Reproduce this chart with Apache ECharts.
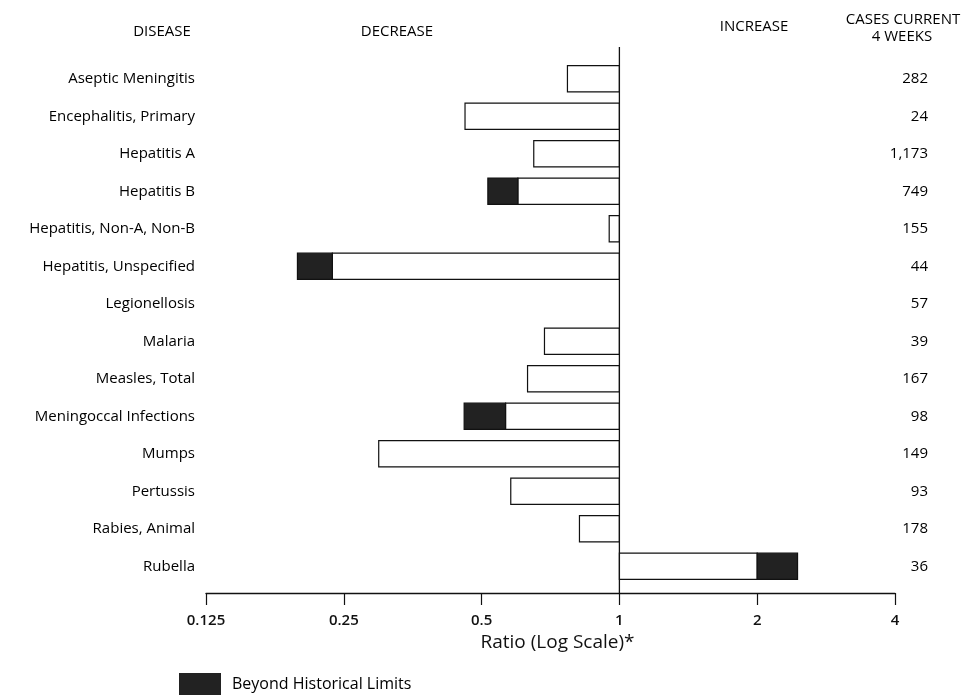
<!DOCTYPE html>
<html>
<head>
<meta charset="utf-8">
<script src="https://cdn.jsdelivr.net/npm/echarts@6/dist/echarts.min.js"></script>
<style>
  html, body { margin: 0; padding: 0; background: #fff; }
  #chart { width: 971px; height: 696px; }
</style>
</head>
<body>
<div id="chart"></div>
<script>
const diseases = [
  'Aseptic Meningitis', 'Encephalitis, Primary', 'Hepatitis A', 'Hepatitis B',
  'Hepatitis, Non-A, Non-B', 'Hepatitis, Unspecified', 'Legionellosis', 'Malaria',
  'Measles, Total', 'Meningoccal Infections', 'Mumps', 'Pertussis', 'Rabies, Animal', 'Rubella'
];
const ratios = [0.77, 0.46, 0.65, 0.516, 0.95, 0.198, 1.0, 0.686, 0.63, 0.458, 0.298, 0.579, 0.818, 2.45];
const historicalLimits = [null, null, null, 0.60, null, 0.236, null, null, null, 0.564, null, null, null, 2.0];
const casesCurrent4Weeks = ['282', '24', '1,173', '749', '155', '44', '57', '39', '167', '98', '149', '93', '178', '36'];
const xTickValues = [0.125, 0.25, 0.5, 1, 2, 4];

const FONT = '"Open Sans", Lato, sans-serif';

const whiteData = [];
const blackData = [];
ratios.forEach(function (r, i) {
  const lim = historicalLimits[i];
  if (lim == null) {
    whiteData.push([i, Math.min(1, r), Math.max(1, r)]);
  } else if (r < 1) {
    whiteData.push([i, lim, 1]);
    blackData.push([i, r, lim]);
  } else {
    whiteData.push([i, 1, lim]);
    blackData.push([i, lim, r]);
  }
});

function makeRender(fill) {
  return function (params, api) {
    const cat = api.value(0);
    const p0 = api.coord([api.value(1), cat]);
    const p1 = api.coord([api.value(2), cat]);
    const h = api.size([0, 1])[1] * 0.7;
    const w = p1[0] - p0[0];
    if (w < 0.5) return null;
    return {
      type: 'rect',
      shape: { x: p0[0], y: p0[1] - h / 2, width: w, height: h },
      style: { fill: fill, stroke: '#111', lineWidth: 1.2 }
    };
  };
}

function headerText(text, cx, cy) {
  return {
    type: 'text', x: cx, y: cy,
    style: {
      text: text, fontSize: 15, fontFamily: FONT, fill: '#000',
      align: 'center', verticalAlign: 'middle'
    }
  };
}

const chart = echarts.init(document.getElementById('chart'), null, { renderer: 'canvas' });
chart.setOption({
  backgroundColor: '#fff',
  animation: false,
  textStyle: { fontFamily: FONT },
  grid: { left: 206, right: 76, top: 60, bottom: 111, containLabel: false },
  legend: {
    data: ['Beyond Historical Limits'],
    left: 179, top: 673, padding: 0,
    icon: 'rect', itemWidth: 42, itemHeight: 22, itemGap: 10,
    textStyle: { fontSize: 16, color: '#000', fontFamily: FONT, padding: [0, 0, 0, 6] }
  },
  xAxis: {
    type: 'log', logBase: 2, min: 0.125, max: 4, splitNumber: 5,
    offset: 8,
    axisLine: { show: true, lineStyle: { color: '#111', width: 1.3 } },
    axisTick: { show: true, inside: false, length: 12, lineStyle: { color: '#111', width: 1.2 } },
    axisLabel: {
      margin: 20, fontSize: 15, fontWeight: 600, color: '#111', fontFamily: FONT,
      formatter: function (v) { return String(+(+v).toFixed(3)); }
    },
    splitLine: { show: false },
    name: 'Ratio (Log Scale)*', nameLocation: 'middle', nameGap: 38,
    nameTextStyle: { fontSize: 19, color: '#111', fontFamily: FONT, padding: [0, 0, 0, 14] }
  },
  yAxis: [
    {
      type: 'category', data: diseases, inverse: true,
      axisLine: { show: false }, axisTick: { show: false }, splitLine: { show: false },
      axisLabel: { margin: 11, fontSize: 15, color: '#000', fontFamily: FONT }
    },
    {
      type: 'category', data: casesCurrent4Weeks, inverse: true, position: 'right',
      axisLine: { show: false }, axisTick: { show: false }, splitLine: { show: false },
      axisLabel: { margin: 33, align: 'right', fontSize: 15, color: '#000', fontFamily: FONT }
    }
  ],
  series: [
    {
      type: 'custom', name: 'Ratio', renderItem: makeRender('#fff'),
      encode: { x: [1, 2], y: 0 }, data: whiteData, z: 2
    },
    {
      type: 'custom', name: 'Beyond Historical Limits', renderItem: makeRender('#222'),
      itemStyle: { color: '#222' },
      encode: { x: [1, 2], y: 0 }, data: blackData, z: 3
    },
    {
      type: 'custom', name: 'baseline', silent: true, z: 4,
      encode: { x: 0 }, data: [[1]],
      renderItem: function (params, api) {
        const cs = params.coordSys;
        const x = api.coord([api.value(0), 0])[0];
        return {
          type: 'line',
          shape: { x1: x, y1: cs.y - 13, x2: x, y2: cs.y + cs.height + 8 },
          style: { stroke: '#111', lineWidth: 1.3 }
        };
      }
    }
  ],
  graphic: [
    headerText('DISEASE', 162, 32),
    headerText('DECREASE', 397, 32),
    headerText('INCREASE', 754, 27),
    headerText('CASES CURRENT', 903, 20),
    headerText('4 WEEKS', 902, 37)
  ]
});
</script>
</body>
</html>
